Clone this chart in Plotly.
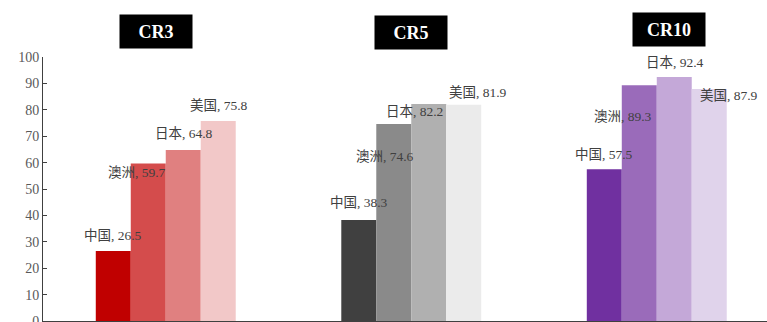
import plotly.graph_objects as go

# Concentration ratios by market
groups = ["CR3", "CR5", "CR10"]
countries = ["中国", "澳洲", "日本", "美国"]
cr3 = [26.5, 59.7, 64.8, 75.8]
cr5 = [38.3, 74.6, 82.2, 81.9]
cr10 = [57.5, 89.3, 92.4, 87.9]
series = [cr3, cr5, cr10]

# Colour ramps: one per ratio group, one shade per country
palettes = [
    ["#C00000", "#D44C4C", "#E08080", "#F2C8C8"],
    ["#404040", "#8A8A8A", "#B0B0B0", "#EBEBEB"],
    ["#7030A0", "#9A6BBA", "#C4A8D8", "#E0D3EB"],
]

# Hand-placed label nudges (px) per group / country
label_shift = [
    [(0, 16), (-11, -9), (1, 16), (1, 15)],
    [(0, 17), (-9, -32), (-14, -8), (14, 12)],
    [(0, 15), (-16, -31), (1, 15), (20, -7)],
]
title_shift = [(-9.5, 1.095), (0, 1.093), (12.5, 1.105)]

serif = "Liberation Serif, Times New Roman, Noto Sans CJK SC, serif"
bar_w = 0.1425
group_w = bar_w * len(countries)

fig = go.Figure()
for i, name in enumerate(countries):
    fig.add_trace(go.Bar(
        x=list(range(len(groups))),
        y=[s[i] for s in series],
        width=bar_w,
        offset=-group_w / 2 + i * bar_w,
        marker=dict(color=[p[i] for p in palettes], line=dict(width=0)),
        name=name,
        showlegend=False,
        hoverinfo="skip",
    ))

annotations = []
for g, s in enumerate(series):
    for i, v in enumerate(s):
        dx, dy = label_shift[g][i]
        annotations.append(dict(
            x=g - group_w / 2 + (i + 0.5) * bar_w, y=v, xref="x", yref="y",
            text=f"{countries[i]}, {v}", showarrow=False,
            xshift=dx, yshift=dy, xanchor="center", yanchor="middle",
            font=dict(family=serif, size=13.5, color="#404040"),
        ))
    tx, ty = title_shift[g]
    annotations.append(dict(
        x=g, y=ty, xref="x", yref="paper", xshift=tx,
        xanchor="center", yanchor="middle",
        text=f"<b>{groups[g]}</b>", showarrow=False,
        bgcolor="#000000", width=70, height=31, borderpad=1,
        font=dict(family=serif, size=18, color="#FFFFFF"),
    ))

fig.update_layout(
    width=767, height=322,
    margin=dict(l=43, r=0, t=57, b=1, autoexpand=False),
    paper_bgcolor="#FFFFFF", plot_bgcolor="#FFFFFF",
    barmode="overlay",
    annotations=annotations,
    xaxis=dict(
        range=[-0.5, 2.449], showticklabels=False, ticks="",
        showgrid=False, zeroline=False, automargin=False,
        showline=True, linecolor="#404040", linewidth=2,
    ),
    yaxis=dict(
        range=[0, 100], dtick=10, tick0=0,
        ticks="inside", ticklen=4, tickcolor="#404040",
        showgrid=False, zeroline=False, automargin=False,
        showline=True, linecolor="#404040", linewidth=1,
        ticklabeloverflow="allow",
        tickfont=dict(family=serif, size=14, color="#595959"),
    ),
)

fig.write_html("out.html")
